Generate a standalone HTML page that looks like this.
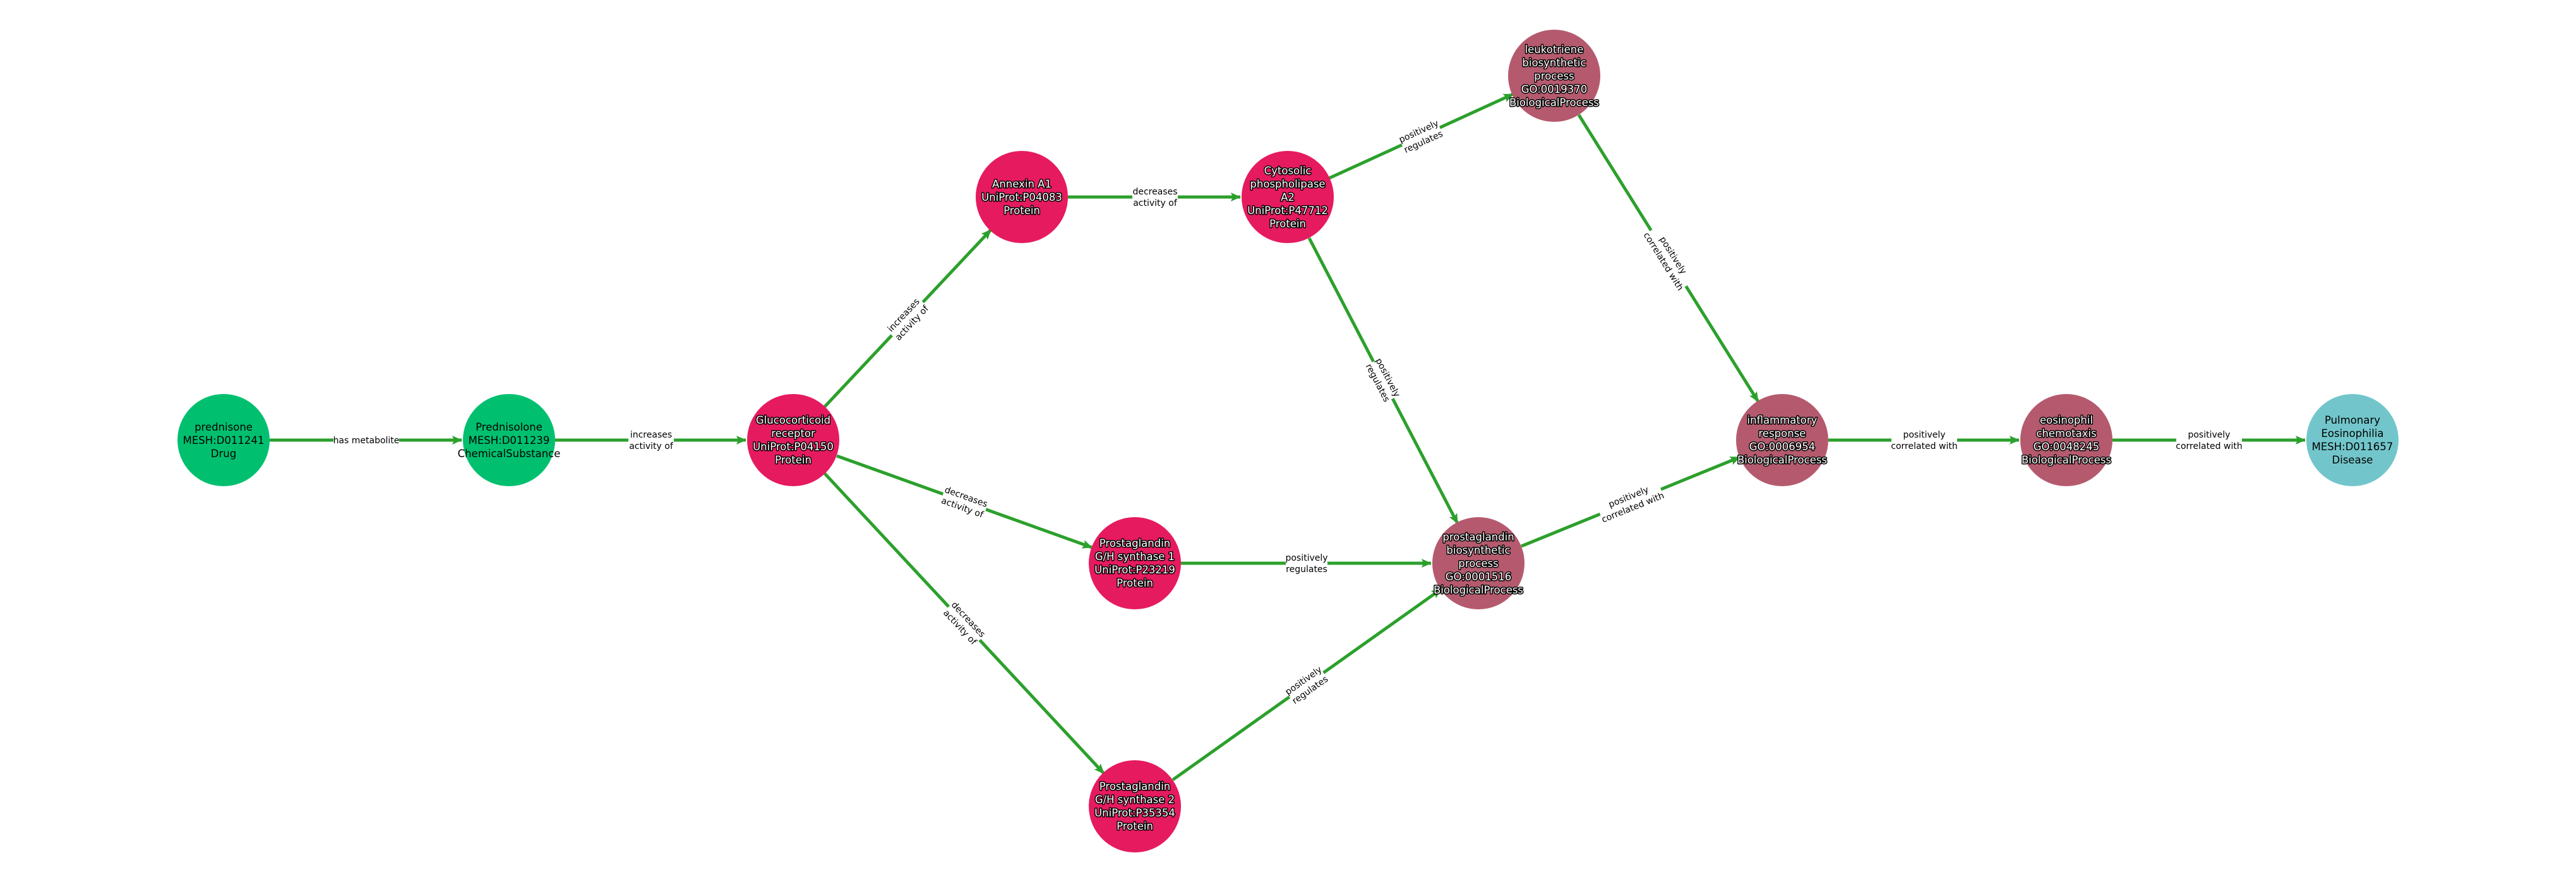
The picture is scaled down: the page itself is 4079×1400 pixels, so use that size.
<!DOCTYPE html>
<html><head><meta charset="utf-8"><style>
html,body{margin:0;padding:0;background:#fff}
svg{display:block}
.n{font-family:"DejaVu Sans","Liberation Sans",sans-serif;font-size:16.5px;text-anchor:middle}
.w{fill:#fff;stroke:#000;stroke-width:3px;paint-order:stroke;stroke-linejoin:round}
.b{fill:#000}
.e{font-family:"DejaVu Sans","Liberation Sans",sans-serif;font-size:14px;text-anchor:middle;fill:#000}
.bg{fill:#fff}
line{stroke:#2ca02c;stroke-width:5}
</style></head><body>
<svg width="4079" height="1400" viewBox="0 0 4079 1400" xmlns="http://www.w3.org/2000/svg">
<defs><marker id="a" markerWidth="16" markerHeight="14" refX="15" refY="7" orient="auto" markerUnits="userSpaceOnUse"><path d="M0,0 L16,7 L0,14 L3,7 Z" fill="#2ca02c"/></marker></defs>
<g>
<line x1="427" y1="697" x2="731" y2="697" marker-end="url(#a)"/>
<line x1="879" y1="697" x2="1181" y2="697" marker-end="url(#a)"/>
<line x1="1306" y1="644" x2="1569" y2="364" marker-end="url(#a)"/>
<line x1="1325" y1="722" x2="1729" y2="867" marker-end="url(#a)"/>
<line x1="1306" y1="750" x2="1748" y2="1225" marker-end="url(#a)"/>
<line x1="1691" y1="312" x2="1964" y2="312" marker-end="url(#a)"/>
<line x1="2105" y1="282" x2="2396" y2="149" marker-end="url(#a)"/>
<line x1="2073" y1="377" x2="2308" y2="829" marker-end="url(#a)"/>
<line x1="2500" y1="182" x2="2784" y2="636" marker-end="url(#a)"/>
<line x1="1870" y1="892" x2="2266" y2="892" marker-end="url(#a)"/>
<line x1="1857" y1="1235" x2="2282" y2="933" marker-end="url(#a)"/>
<line x1="2409" y1="865" x2="2755" y2="724" marker-end="url(#a)"/>
<line x1="2895" y1="697" x2="3197" y2="697" marker-end="url(#a)"/>
<line x1="3345" y1="697" x2="3650" y2="697" marker-end="url(#a)"/>
</g>
<g>
<rect class="bg" x="528" y="687" width="104" height="20"/><text class="e" x="580" y="702">has metabolite</text>
<rect class="bg" x="995" y="679" width="72" height="38"/><text class="e" x="1031" y="693">increases</text><text class="e" x="1031" y="711">activity of</text>
<g transform="rotate(-46.8 1437 505)"><rect class="bg" x="1401" y="487" width="72" height="38"/><text class="e" x="1437" y="501">increases</text><text class="e" x="1437" y="519">activity of</text></g>
<g transform="rotate(19.8 1527 795)"><rect class="bg" x="1491" y="777" width="72" height="38"/><text class="e" x="1527" y="791">decreases</text><text class="e" x="1527" y="809">activity of</text></g>
<g transform="rotate(47 1527 987)"><rect class="bg" x="1491" y="969" width="72" height="38"/><text class="e" x="1527" y="983">decreases</text><text class="e" x="1527" y="1001">activity of</text></g>
<rect class="bg" x="1793" y="294" width="72" height="38"/><text class="e" x="1829" y="308">decreases</text><text class="e" x="1829" y="326">activity of</text>
<g transform="rotate(-24.5 2250 216)"><rect class="bg" x="2217" y="198" width="66" height="38"/><text class="e" x="2250" y="212">positively</text><text class="e" x="2250" y="230">regulates</text></g>
<g transform="rotate(62.5 2190 602)"><rect class="bg" x="2157" y="584" width="66" height="38"/><text class="e" x="2190" y="598">positively</text><text class="e" x="2190" y="616">regulates</text></g>
<g transform="rotate(58 2642 409)"><rect class="bg" x="2590" y="391" width="104" height="38"/><text class="e" x="2642" y="405">positively</text><text class="e" x="2642" y="423">correlated with</text></g>
<rect class="bg" x="2036" y="874" width="66" height="38"/><text class="e" x="2069" y="888">positively</text><text class="e" x="2069" y="906">regulates</text>
<g transform="rotate(-35.3 2069 1085)"><rect class="bg" x="2036" y="1067" width="66" height="38"/><text class="e" x="2069" y="1081">positively</text><text class="e" x="2069" y="1099">regulates</text></g>
<g transform="rotate(-22 2582 795)"><rect class="bg" x="2530" y="777" width="104" height="38"/><text class="e" x="2582" y="791">positively</text><text class="e" x="2582" y="809">correlated with</text></g>
<rect class="bg" x="2995" y="679" width="104" height="38"/><text class="e" x="3047" y="693">positively</text><text class="e" x="3047" y="711">correlated with</text>
<rect class="bg" x="3446" y="679" width="104" height="38"/><text class="e" x="3498" y="693">positively</text><text class="e" x="3498" y="711">correlated with</text>
</g>
<circle cx="354" cy="697" r="73" fill="#00c06f"/>
<text class="n b" x="354" y="682">prednisone</text><text class="n b" x="354" y="703">MESH:D011241</text><text class="n b" x="354" y="724">Drug</text>
<circle cx="806" cy="697" r="73" fill="#00c06f"/>
<text class="n b" x="806" y="682">Prednisolone</text><text class="n b" x="806" y="703">MESH:D011239</text><text class="n b" x="806" y="724">ChemicalSubstance</text>
<circle cx="1256" cy="697" r="73" fill="#e61a5f"/>
<text class="n w" x="1256" y="671">Glucocorticoid</text><text class="n w" x="1256" y="692">receptor</text><text class="n w" x="1256" y="713">UniProt:P04150</text><text class="n w" x="1256" y="734">Protein</text>
<circle cx="1618" cy="312" r="73" fill="#e61a5f"/>
<text class="n w" x="1618" y="297">Annexin A1</text><text class="n w" x="1618" y="318">UniProt:P04083</text><text class="n w" x="1618" y="339">Protein</text>
<circle cx="2039" cy="312" r="73" fill="#e61a5f"/>
<text class="n w" x="2039" y="276">Cytosolic</text><text class="n w" x="2039" y="297">phospholipase</text><text class="n w" x="2039" y="318">A2</text><text class="n w" x="2039" y="339">UniProt:P47712</text><text class="n w" x="2039" y="360">Protein</text>
<circle cx="2461" cy="120" r="73" fill="#b55a6e"/>
<text class="n w" x="2461" y="84">leukotriene</text><text class="n w" x="2461" y="105">biosynthetic</text><text class="n w" x="2461" y="126">process</text><text class="n w" x="2461" y="147">GO:0019370</text><text class="n w" x="2461" y="168">BiologicalProcess</text>
<circle cx="1797" cy="892" r="73" fill="#e61a5f"/>
<text class="n w" x="1797" y="866">Prostaglandin</text><text class="n w" x="1797" y="887">G/H synthase 1</text><text class="n w" x="1797" y="908">UniProt:P23219</text><text class="n w" x="1797" y="929">Protein</text>
<circle cx="1797" cy="1277" r="73" fill="#e61a5f"/>
<text class="n w" x="1797" y="1251">Prostaglandin</text><text class="n w" x="1797" y="1272">G/H synthase 2</text><text class="n w" x="1797" y="1293">UniProt:P35354</text><text class="n w" x="1797" y="1314">Protein</text>
<circle cx="2341" cy="892" r="73" fill="#b55a6e"/>
<text class="n w" x="2341" y="856">prostaglandin</text><text class="n w" x="2341" y="877">biosynthetic</text><text class="n w" x="2341" y="898">process</text><text class="n w" x="2341" y="919">GO:0001516</text><text class="n w" x="2341" y="940">BiologicalProcess</text>
<circle cx="2822" cy="697" r="73" fill="#b55a6e"/>
<text class="n w" x="2822" y="671">inflammatory</text><text class="n w" x="2822" y="692">response</text><text class="n w" x="2822" y="713">GO:0006954</text><text class="n w" x="2822" y="734">BiologicalProcess</text>
<circle cx="3272" cy="697" r="73" fill="#b55a6e"/>
<text class="n w" x="3272" y="671">eosinophil</text><text class="n w" x="3272" y="692">chemotaxis</text><text class="n w" x="3272" y="713">GO:0048245</text><text class="n w" x="3272" y="734">BiologicalProcess</text>
<circle cx="3725" cy="697" r="73" fill="#72c6cb"/>
<text class="n b" x="3725" y="671">Pulmonary</text><text class="n b" x="3725" y="692">Eosinophilia</text><text class="n b" x="3725" y="713">MESH:D011657</text><text class="n b" x="3725" y="734">Disease</text>
</svg>
</body></html>
